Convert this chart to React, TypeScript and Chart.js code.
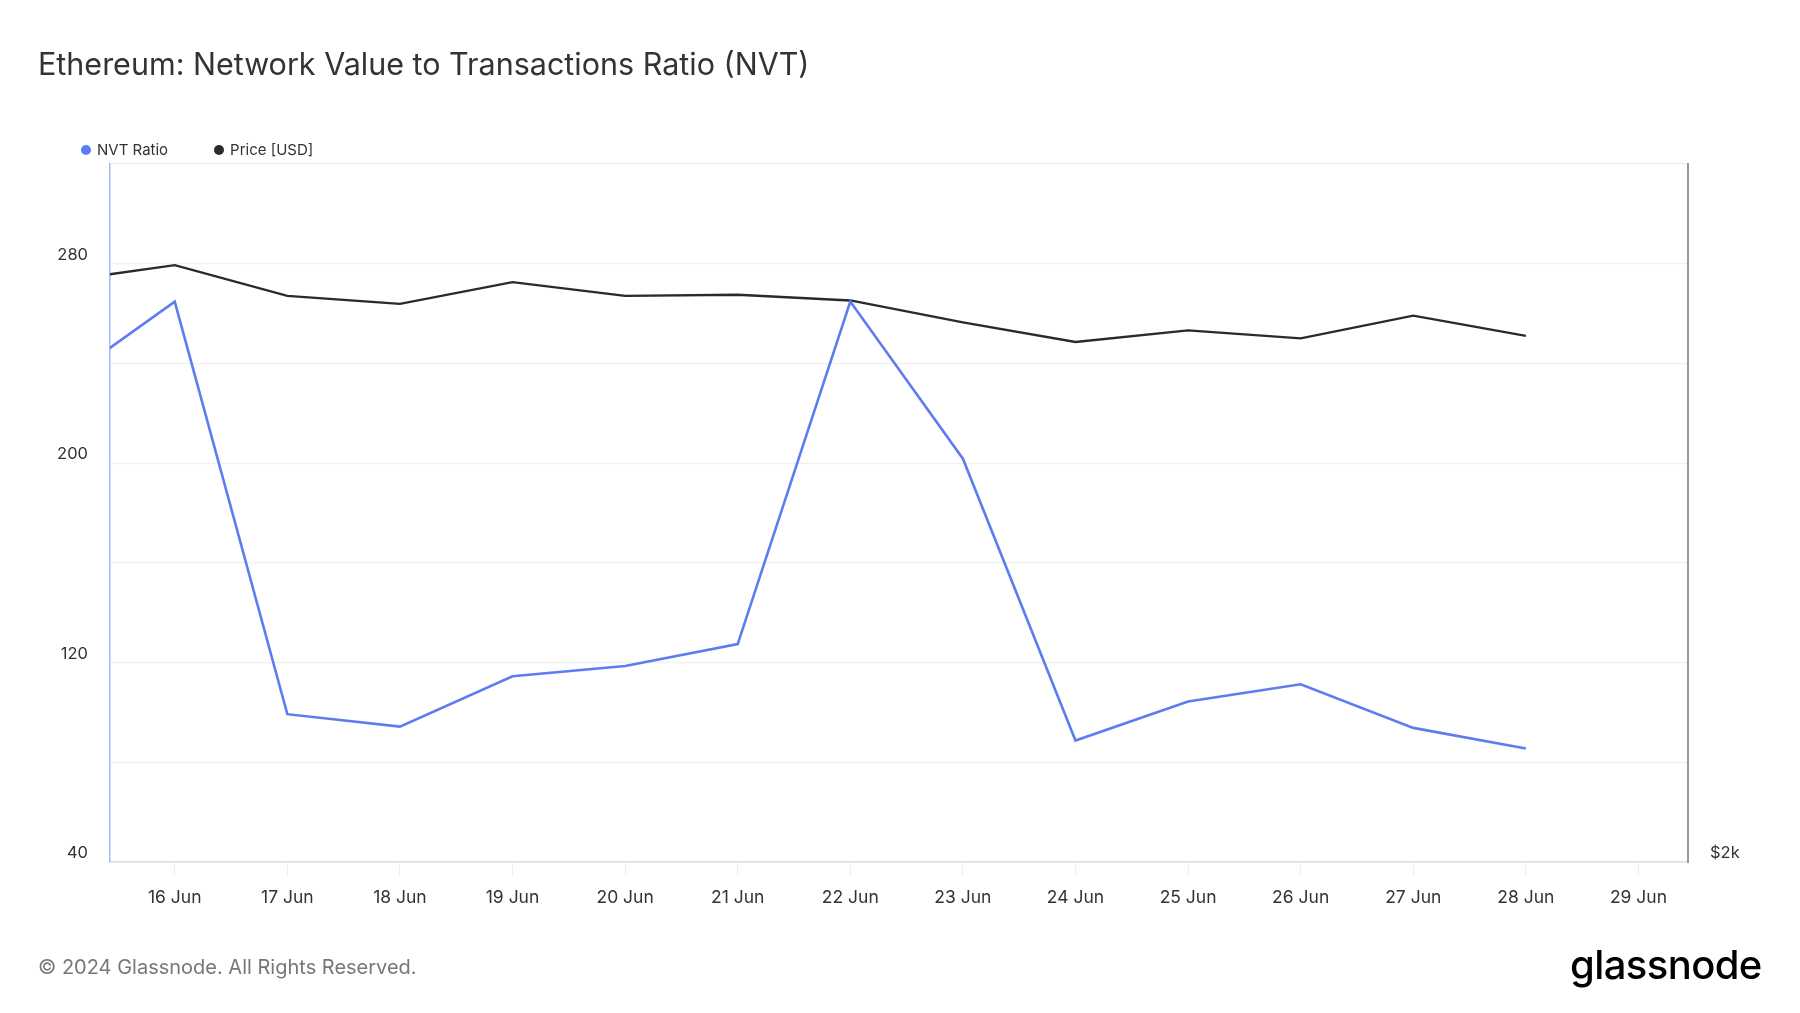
import React, { useEffect, useRef } from 'react';
import { Chart, registerables } from 'chart.js';

Chart.register(...registerables);

// Days: index 0 = 15 Jun
const dateLabels = ['15 Jun', '16 Jun', '17 Jun', '18 Jun', '19 Jun', '20 Jun', '21 Jun', '22 Jun', '23 Jun', '24 Jun', '25 Jun', '26 Jun', '27 Jun', '28 Jun', '29 Jun'];
const nvtRatio = [232.5, 264.8, 99.3, 94.3, 114.5, 118.6, 127.4, 264.8, 201.8, 88.7, 104.4, 111.3, 93.8, 85.5];
const priceUsd = [3561, 3618, 3509, 3481, 3557, 3509, 3513, 3493, 3418, 3352, 3391, 3364, 3441, 3372];
const leftTickValues = [40, 80, 120, 160, 200, 240, 280, 320];
const leftTickLabels = [40, 120, 200, 280];
const rightTickValues = [2000];
const rightTickLabels = ['$2k'];
const xTickValues = [1, 2, 3, 4, 5, 6, 7, 8, 9, 10, 11, 12, 13, 14];

const NVT_COLOR = '#5d7cf0';
const PRICE_COLOR = '#2a2a2a';
const FONT = 'Inter, "Noto Sans", sans-serif';

export default function App() {
  const ref = useRef<HTMLCanvasElement | null>(null);

  useEffect(() => {
    if (!ref.current) return;
    document.body.style.margin = '0';
    const chart = new Chart(ref.current, {
      type: 'line',
      data: {
        datasets: [
          {
            label: 'NVT Ratio',
            data: nvtRatio.map((v, i) => ({ x: i, y: v })),
            borderColor: NVT_COLOR,
            backgroundColor: NVT_COLOR,
            borderWidth: 2.6,
            pointRadius: 0,
            tension: 0,
            yAxisID: 'y',
            clip: 0,
          },
          {
            label: 'Price [USD]',
            data: priceUsd.map((v, i) => ({ x: i, y: v })),
            borderColor: PRICE_COLOR,
            backgroundColor: PRICE_COLOR,
            borderWidth: 2.3,
            pointRadius: 0,
            tension: 0,
            yAxisID: 'y1',
            clip: 0,
          },
        ],
      },
      options: {
        animation: false,
        responsive: false,
        maintainAspectRatio: false,
        layout: { padding: { top: 164, left: 0, right: 0, bottom: 0 } },
        plugins: { legend: { display: false }, tooltip: { enabled: false } },
        scales: {
          x: {
            type: 'linear',
            min: 0.425,
            max: 14.44,
            afterBuildTicks: (s: any) => {
              s.ticks = xTickValues.map((v) => ({ value: v }));
            },
            afterFit: (s: any) => {
              s.height = 151;
            },
            ticks: {
              autoSkip: false,
              maxRotation: 0,
              padding: 11,
              color: '#333',
              font: { family: FONT, size: 17.5 },
              callback: (v: any) => dateLabels[Math.round(v)] ?? '',
            },
            grid: { drawOnChartArea: false, drawTicks: true, tickLength: 14, color: '#eeeeee' },
            border: { color: '#dddddd', width: 1.5 },
          },
          y: {
            type: 'linear',
            position: 'left',
            min: 40,
            max: 320,
            afterBuildTicks: (s: any) => {
              s.ticks = leftTickValues.map((v) => ({ value: v }));
            },
            afterFit: (s: any) => {
              s.width = 110;
            },
            ticks: {
              padding: 22,
              labelOffset: -9,
              color: '#333',
              font: { family: FONT, size: 16.5 },
              callback: (v: any) => (leftTickLabels.includes(v) ? String(v) : ''),
            },
            grid: { color: '#f0f0f0', drawTicks: false, lineWidth: 1.2 },
            border: { color: '#a8b8f8', width: 1.5 },
          },
          y1: {
            type: 'logarithmic',
            position: 'right',
            min: 2000,
            max: 4000,
            afterBuildTicks: (s: any) => {
              s.ticks = rightTickValues.map((v) => ({ value: v }));
            },
            afterFit: (s: any) => {
              s.width = 112;
            },
            ticks: {
              padding: 22,
              labelOffset: -9,
              color: '#333',
              font: { family: FONT, size: 16.5 },
              callback: (v: any) => {
                const i = rightTickValues.indexOf(v);
                return i >= 0 ? rightTickLabels[i] : '';
              },
            },
            grid: { drawOnChartArea: false, drawTicks: false },
            border: { color: '#999999', width: 2 },
          },
        },
      },
    });
    return () => chart.destroy();
  }, []);

  return (
    <div style={{ position: 'absolute', left: 0, top: 0, width: 1800, height: 1013, background: '#fff', fontFamily: FONT, overflow: 'hidden' }}>
      <canvas ref={ref} width={1800} height={1013} style={{ position: 'absolute', left: 0, top: 0, width: 1800, height: 1013 }} />
      <div style={{ position: 'absolute', left: 38, top: 45, fontSize: 30.5, color: '#333', whiteSpace: 'nowrap' }}>
        Ethereum: Network Value to Transactions Ratio (NVT)
      </div>
      <div style={{ position: 'absolute', left: 81, top: 140, fontSize: 15, color: '#333', display: 'flex', alignItems: 'center', whiteSpace: 'nowrap' }}>
        <span style={{ width: 10, height: 10, borderRadius: 5, background: NVT_COLOR, display: 'inline-block', marginRight: 6 }} />
        <span>NVT Ratio</span>
        <span style={{ width: 10, height: 10, borderRadius: 5, background: PRICE_COLOR, display: 'inline-block', marginLeft: 46, marginRight: 6 }} />
        <span>Price [USD]</span>
      </div>
      <div style={{ position: 'absolute', left: 38, top: 955, fontSize: 20, color: '#777', whiteSpace: 'nowrap' }}>
        © 2024 Glassnode. All Rights Reserved.
      </div>
      <div style={{ position: 'absolute', left: 1570, top: 940, fontSize: 40, fontWeight: 500, color: '#000', letterSpacing: -0.6, whiteSpace: 'nowrap' }}>
        glassnode
      </div>
    </div>
  );
}
